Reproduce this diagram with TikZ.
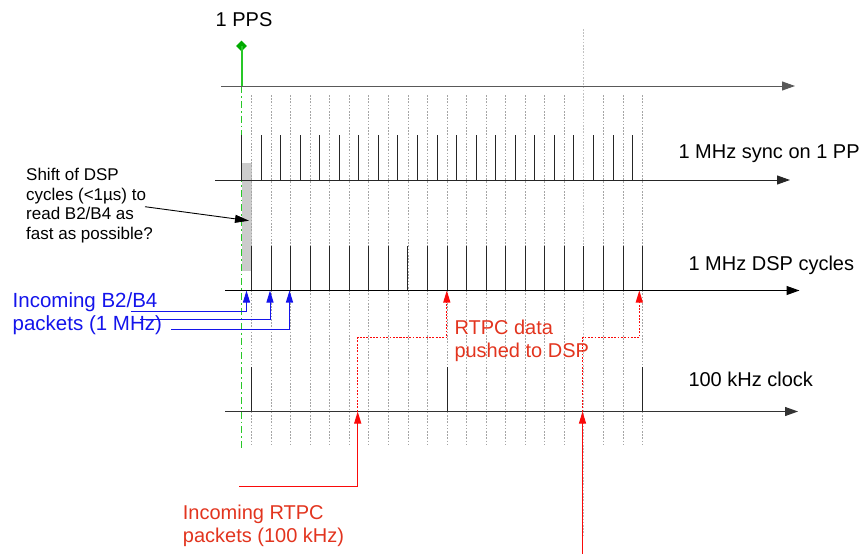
\documentclass[tikz,border=0pt]{standalone}
\usepackage{fontspec}
\setmainfont{Liberation Sans}
\usetikzlibrary{arrows.meta,shapes.geometric}
\definecolor{gridgray}{RGB}{165,165,165}
\definecolor{ppsgreen}{RGB}{40,200,40}
\definecolor{ppsdark}{RGB}{0,170,0}
\definecolor{redtxt}{RGB}{226,52,30}
\definecolor{redline}{RGB}{250,10,10}
\definecolor{bluetxt}{RGB}{20,20,235}
\definecolor{shiftgray}{RGB}{204,204,204}
\begin{document}
\begin{tikzpicture}[x=1pt,y=-1pt,
  axisline/.style={line width=1pt,-{Triangle[length=13pt,width=9pt]}},
  tickline/.style={line width=0.9pt,black!85},
  gridline/.style={gridgray,line width=0.8pt,dash pattern=on 1.6pt off 1.6pt},
  lbl/.style={inner sep=0pt,anchor=base west,align=left,font=\fontsize{20}{23}\selectfont},
  smalllbl/.style={inner sep=0pt,anchor=base west,align=left,font=\fontsize{17}{19.5}\selectfont},
  bluearrow/.style={bluetxt,line width=1pt,-{Triangle[length=12pt,width=7pt]}},
  redsolid/.style={redline,line width=1pt,-{Triangle[length=12pt,width=7pt]}},
  reddot/.style={redline,line width=1.2pt,dash pattern=on 1.8pt off 1.5pt,-{Triangle[length=12pt,width=7pt]}}]
\useasboundingbox (0,0) rectangle (862,554);

% shaded shift region
\fill[shiftgray] (241.5,163) rectangle (251.5,271);

% grid
\foreach \k in {0,...,16,18,19,20}{
  \draw[gridline] ({251.5+19.55*\k},95) -- ({251.5+19.55*\k},445);
}
\draw[gridline,gridgray!70] ({251.5+19.55*17},29) -- ({251.5+19.55*17},535);

% 1 PPS marker
\node[diamond,fill=ppsdark,minimum width=11pt,minimum height=11pt,inner sep=0pt] (pps) at (241.5,46) {};
\coordinate (ppsbase) at (241.5,86);
\coordinate (ppsend) at (241.5,450);
\draw[ppsgreen,line width=2pt] (pps.center) -- (ppsbase);
\draw[ppsgreen,line width=1.8pt,dash pattern=on 7pt off 3pt on 1.8pt off 3pt] (ppsbase) -- (ppsend);
\node[lbl] (ppslbl) at (215.5,26) {1 PPS};

% axis 1
\coordinate (a1s) at (221,86);
\coordinate (a1e) at (795,86);
\draw[axisline,black!65] (a1s) -- (a1e);

% axis 2: 1 MHz sync
\foreach \k in {0,...,20}{
  \draw[tickline] ({241.5+19.55*\k},135) -- ({241.5+19.55*\k},180);
}
\coordinate (a2s) at (215,180);
\coordinate (a2e) at (790,180);
\draw[axisline,black!85] (a2s) -- (a2e);
\node[lbl] (synclbl) at (678.3,158.3) {1 MHz sync on 1 PP};

% axis 3: DSP cycles
\foreach \k in {0,...,20}{
  \draw[tickline] ({251.5+19.55*\k},246) -- ({251.5+19.55*\k},290);
}
\coordinate (a3s) at (225,290.5);
\coordinate (a3e) at (799.5,290.5);
\draw[axisline,black] (a3s) -- (a3e);
\node[lbl] (dsplbl) at (688.3,270) {1 MHz DSP cycles};

% axis 4: 100 kHz clock
\foreach \k in {0,10,20}{
  \draw[tickline] ({251.5+19.55*\k},367) -- ({251.5+19.55*\k},411.5);
}
\coordinate (a4s) at (225,411.5);
\coordinate (a4e) at (798,411.5);
\draw[axisline,black!80] (a4s) -- (a4e);
\node[lbl] (clklbl) at (688.3,386.7) {100 kHz clock};

% shift annotation (anchor = baseline of last line)
\node[smalllbl] (shift) at (26,239.2) {Shift of DSP\\cycles (<1µs) to\\read B2/B4 as\\fast as possible?};
\coordinate (shiftfrom) at (145,206.7);
\coordinate (shiftto) at (249,220.7);
\draw[black,line width=0.9pt,-{Triangle[length=14pt,width=8pt]}] (shiftfrom) -- (shiftto);

% incoming B2/B4
\node[lbl,text=bluetxt,font=\fontsize{20.5}{23}\selectfont] (b2b4) at (12.5,330) {Incoming B2/B4\\packets (1 MHz)};
\coordinate (b1s) at (131,311);
\coordinate (b1t) at (246.5,290.5);
\coordinate (b2s) at (140,319);
\coordinate (b2t) at (270,290.5);
\coordinate (b3s) at (171,329.5);
\coordinate (b3t) at (289.5,290.5);
\draw[bluearrow] (b1s) -| (b1t);
\draw[bluearrow] (b2s) -| (b2t);
\draw[bluearrow,line width=1.3pt] (b3s) -| (b3t);

% incoming RTPC
\node[lbl,text=redtxt] (rtpcin) at (182.7,542.3) {Incoming RTPC\\packets (100 kHz)};
\coordinate (r1s) at (239,486.7);
\coordinate (r1t) at (357.7,411.5);
\coordinate (r1u) at (446.8,290.5);
\coordinate (r2s) at (582.5,554);
\coordinate (r2t) at (582.5,411.5);
\coordinate (r2u) at (639.3,290.5);
\draw[redsolid] (r1s) -| (r1t);
\draw[redsolid] (r2s) -- (r2t);
\draw[reddot] (r1t) |- (401,337.7) -| (r1u);
\draw[reddot] (r2t) |- (610,337.7) -| (r2u);

\node[lbl,text=redtxt] (rtpcdsp) at (454.3,357.8) {RTPC data\\pushed to DSP};
\end{tikzpicture}
\end{document}
